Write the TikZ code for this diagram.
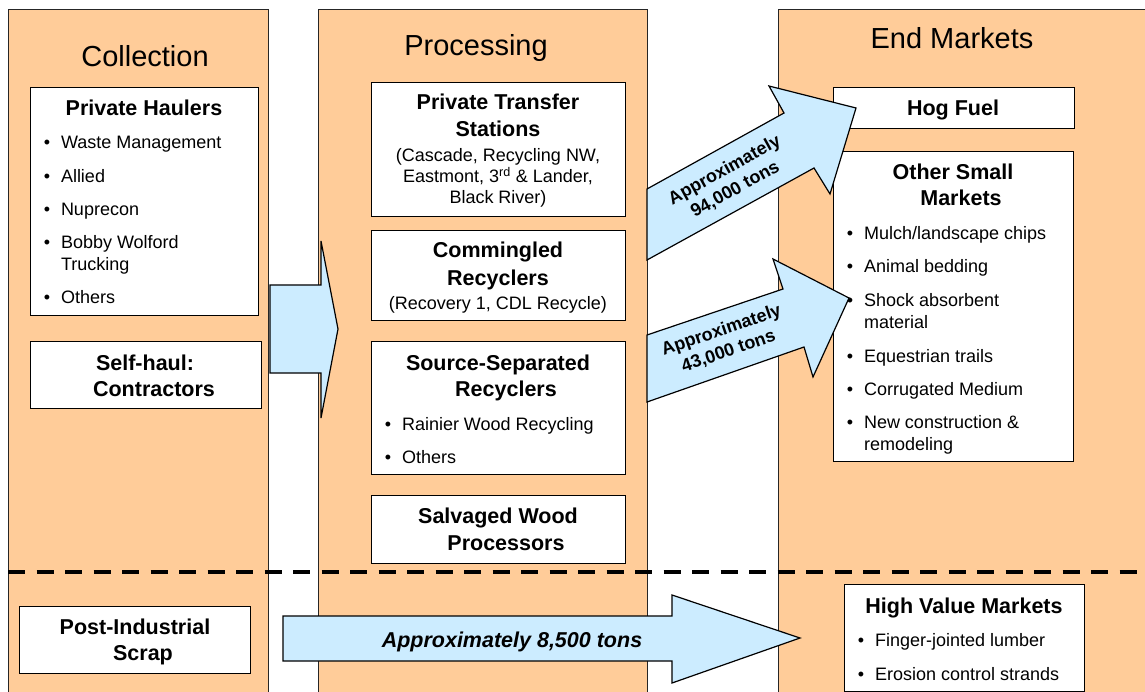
\documentclass[tikz,border=0pt]{standalone}
\usepackage{fontspec}
\setmainfont{Liberation Sans}
\definecolor{peach}{RGB}{255,204,153}
\definecolor{sky}{RGB}{204,236,255}
\newcommand\fttl{\fontsize{29}{34}\selectfont}
\newcommand\fbold{\fontsize{21.5}{26}\selectfont\bfseries}
\newcommand\freg{\fontsize{18}{22}\selectfont}
\newcommand\bitem[5]{%
  \node[txt,anchor=base] (#1b) at (#2,#4) {\freg •};
  \node[txt,anchor=base west] (#1) at (#3,#4) {\freg #5};}
\newcommand\contline[4]{\node[txt,anchor=base west] (#1) at (#2,#3) {\freg #4};}
\newcommand\tline[4]{\node[txt,anchor=base] (#1) at (#2,#3) {\fbold #4};}
\newcommand\rline[4]{\node[txt,anchor=base] (#1) at (#2,#3) {\freg #4};}
\begin{document}
\begin{tikzpicture}[x=1pt,y=-1pt,
  txt/.style={inner sep=0pt,outer sep=0pt},
  column/.style={draw=black!85,fill=peach,line width=0.9pt},
  wbox/.style={draw=black,fill=white,line width=1.2pt,anchor=north west,inner sep=0pt},
  flow/.style={draw=black,fill=sky,line width=1.2pt,line join=miter},
  flowlabel/.style={inner sep=0pt,outer sep=0pt,align=center,font=\fontsize{18}{22}\selectfont\bfseries}]
\clip (0,0) rectangle (1145,692);
\fill[white] (0,0) rectangle (1145,692);
% columns
\node[column,anchor=north west,minimum width=260pt,minimum height=720pt,inner sep=0pt] (colA) at (8,9) {};
\node[column,anchor=north west,minimum width=329pt,minimum height=720pt,inner sep=0pt] (colB) at (318,9) {};
\node[column,anchor=north west,minimum width=400pt,minimum height=720pt,inner sep=0pt] (colC) at (778,9) {};
\node[txt,anchor=base] (tA) at (145,67) {\fttl Collection};
\node[txt,anchor=base] (tB) at (476,56) {\fttl Processing};
\node[txt,anchor=base] (tC) at (952,49) {\fttl End Markets};
% arrow collection -> processing
\coordinate (a1) at (270,285);
\draw[flow] (a1) -- (321,285) -- (321,241) -- (338,329) -- (321,418) -- (321,373) -- (270,373) -- cycle;
% bottom arrow
\coordinate (d1) at (283,616);
\draw[flow] (d1) -- (672,616) -- (672,595) -- (800,638) -- (672,683) -- (672,661) -- (283,661) -- cycle;
\node[txt,anchor=base] (dl) at (512,647) {\fbold\itshape Approximately 8,500 tons};
% collection boxes
\node[wbox,minimum width=228pt,minimum height=228pt] (ph) at (30,87) {};
\tline{pht}{144}{116}{Private Haulers}
\bitem{ph1}{47}{61}{149}{Waste Management}
\bitem{ph2}{47}{61}{183}{Allied}
\bitem{ph3}{47}{61}{216}{Nuprecon}
\bitem{ph4}{47}{61}{249}{Bobby Wolford}
\contline{ph4c}{61}{271}{Trucking}
\bitem{ph5}{47}{61}{304}{Others}
\node[wbox,minimum width=231pt,minimum height=67pt] (sh) at (30,341) {};
\tline{sht1}{145}{370}{Self-haul:}
\tline{sht2}{154}{396}{Contractors}
\node[wbox,minimum width=231pt,minimum height=67pt] (pi) at (19,606) {};
\tline{pit1}{135}{634}{Post-Industrial}
\tline{pit2}{143}{660}{Scrap}
% processing boxes
\node[wbox,minimum width=254pt,minimum height=134pt] (pts) at (371,82) {};
\tline{ptst1}{498}{110}{Private Transfer}
\tline{ptst2}{498}{137}{Stations}
\rline{ptsr1}{498}{162}{(Cascade, Recycling NW,}
\rline{ptsr2}{498}{183}{Eastmont, 3\textsuperscript{rd} \& Lander,}
\rline{ptsr3}{498}{204}{Black River)}
\node[wbox,minimum width=254pt,minimum height=90pt] (cr) at (371,230) {};
\tline{crt1}{498}{258}{Commingled}
\tline{crt2}{498}{286}{Recyclers}
\rline{crr1}{498}{309}{(Recovery 1, CDL Recycle)}
\node[wbox,minimum width=254pt,minimum height=133pt] (ss) at (371,341) {};
\tline{sst1}{498}{370}{Source-Separated}
\tline{sst2}{506}{396}{Recyclers}
\bitem{ss1}{388}{402}{430}{Rainier Wood Recycling}
\bitem{ss2}{388}{402}{463}{Others}
\node[wbox,minimum width=254pt,minimum height=68pt] (sw) at (371,495) {};
\tline{swt1}{498}{523}{Salvaged Wood}
\tline{swt2}{506}{550}{Processors}
% end market boxes
\node[wbox,minimum width=241pt,minimum height=41pt] (hf) at (833,87) {};
\tline{hft}{953}{116}{Hog Fuel}
\node[wbox,minimum width=240pt,minimum height=310pt] (os) at (833,151) {};
\tline{ost1}{953}{180}{Other Small}
\tline{ost2}{961}{206}{Markets}
\bitem{os1}{850}{864}{240}{Mulch/landscape chips}
\bitem{os2}{850}{864}{273}{Animal bedding}
\bitem{os3}{850}{864}{307}{Shock absorbent}
\contline{os3c}{864}{328}{material}
\bitem{os4}{850}{864}{362}{Equestrian trails}
\bitem{os5}{850}{864}{395}{Corrugated Medium}
\bitem{os6}{850}{864}{428}{New construction \&}
\contline{os6c}{864}{450}{remodeling}
\node[wbox,minimum width=240pt,minimum height=107pt] (hv) at (844,584) {};
\tline{hvt}{964}{613}{High Value Markets}
\bitem{hv1}{861}{875}{646}{Finger-jointed lumber}
\bitem{hv2}{861}{875}{680}{Erosion control strands}
% slanted arrows
\coordinate (b1) at (647,260);
\draw[flow] (b1) -- (814,168) -- (830,194) -- (856,108) -- (769,86) -- (784,113) -- (647,189) -- cycle;
\node[flowlabel,rotate=29] (bl) at (730,180) {Approximately\\ 94,000 tons};
\coordinate (c1) at (647,402);
\draw[flow] (c1) -- (804,347) -- (813,377) -- (849,298) -- (773,259) -- (783,289) -- (647,335) -- cycle;
\node[flowlabel,rotate=19] (cl) at (725,341) {Approximately\\ 43,000 tons};
% dashed divider
\coordinate (dv1) at (8,572);
\coordinate (dv2) at (1145,572);
\draw[line width=3.6pt,dash pattern=on 17pt off 11.5pt] (dv1) -- (dv2);
\end{tikzpicture}
\end{document}
